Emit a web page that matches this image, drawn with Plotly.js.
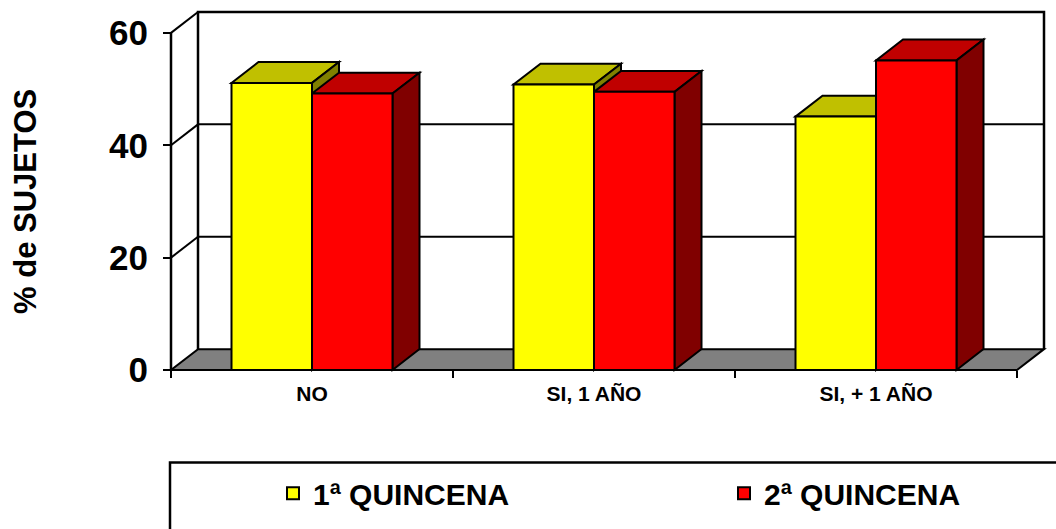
<!DOCTYPE html>
<html>
<head>
<meta charset="utf-8">
<script src="https://cdn.plot.ly/plotly-3.0.1.min.js"></script>
<style>html,body{margin:0;padding:0;background:#fff;}#chart{width:1056px;height:529px;}</style>
</head>
<body>
<div id="chart"></div>
<script>
// ---- data ----
const categories = ['NO', 'SI, 1 AÑO', 'SI, + 1 AÑO'];
const q1 = [51.1, 50.8, 45.1];
const q2 = [49.2, 49.5, 55.1];
const seriesNames = ['1ª QUINCENA', '2ª QUINCENA'];
const yTicks = [0, 20, 40, 60];
const yTitle = '% de SUJETOS';

// ---- geometry (pixels) ----
const KX = 282, KY = 5.65;          // px per category / per unit
const X0PX = 171, Y0PX = 372;       // front origin
const DXPX = 27, DYPX = 21;         // 3D depth offset
const PAD = 3;
const DX = DXPX / KX, DY = DYPX / KY;
const YMAX = 60;
const BW = 80.5 / KX;
const FW = 1056, FH = 529;

const xmin = -0.5 - PAD / KX, xmax = categories.length - 0.5 + DX + PAD / KX;
const ymin = -PAD / KY, ymax = YMAX + DY + PAD / KY;
const W = (xmax - xmin) * KX, H = (ymax - ymin) * KY;
const ml = X0PX - PAD, mb = FH - (Y0PX + PAD);
const mr = FW - ml - W, mt = FH - mb - H;
const px2paperX = p => (p - ml) / W;
const px2paperY = p => (FH - mb - p) / H;

const colors = {
  front: ['#FFFF00', '#FF0000'],
  top: ['#C0C000', '#C00000'],
  side: ['#808000', '#800000']
};

const xL = -0.5, xR = categories.length - 0.5;
const shapes = [];
const ln = (w) => ({color: '#000', width: w});
function poly(pts, fill, w) {
  const d = 'M' + pts.map(p => p[0] + ',' + p[1]).join('L') + 'Z';
  shapes.push({type: 'path', xref: 'x', yref: 'y', layer: 'below', path: d,
    fillcolor: fill, line: ln(w)});
}
function seg(x0, y0, x1, y1, w) {
  shapes.push({type: 'line', xref: 'x', yref: 'y', layer: 'below', x0, y0, x1, y1, line: ln(w)});
}
// floor
poly([[xL, 0], [xR, 0], [xR + DX, DY], [xL + DX, DY]], '#808080', 2);
// back wall frame
shapes.push({type: 'path', xref: 'x', yref: 'y', layer: 'below',
  path: `M${xL + DX},${DY}L${xL + DX},${YMAX + DY}L${xR + DX},${YMAX + DY}L${xR + DX},${DY}`,
  line: ln(2.5)});
// gridlines on back wall + diagonals on left wall
yTicks.forEach(v => {
  if (v > 0 && v < YMAX) seg(xL + DX, v + DY, xR + DX, v + DY, 2);
  if (v > 0) seg(xL, v, xL + DX, v + DY, 2);
});
// front vertical axis line
seg(xL, 0, xL, YMAX, 2.5);

// 3D faces (tops and sides) computed from the data
const series = [q1, q2];
const offsets = [-BW, 0];
categories.forEach((c, i) => {
  series.forEach((s, k) => {
    const xl = i + offsets[k], xr = xl + BW, v = s[i];
    poly([[xl, v], [xr, v], [xr + DX, v + DY], [xl + DX, v + DY]], colors.top[k], 2);
    poly([[xr, 0], [xr, v], [xr + DX, v + DY], [xr + DX, DY]], colors.side[k], 2);
  });
});

// legend frame
shapes.push({type: 'rect', xref: 'paper', yref: 'paper', layer: 'above',
  x0: px2paperX(170), x1: px2paperX(1080), y0: px2paperY(465), y1: px2paperY(560),
  line: ln(2.5), fillcolor: 'rgba(0,0,0,0)'});

const xIdx = categories.map((c, i) => i);
const legendIds = ['legend', 'legend2'];
const traces = series.map((s, k) => ({
  type: 'bar', x: xIdx, y: s, name: seriesNames[k], legend: legendIds[k],
  width: BW, offset: offsets[k],
  marker: {color: colors.front[k], line: {color: '#000', width: 2}},
  hoverinfo: 'y'
}));

const fontFam = '"Liberation Sans", Arial, sans-serif';
const legFont = {family: fontFam, size: 30, weight: 'bold', color: '#000'};
const legBase = {
  orientation: 'h', xanchor: 'left', yanchor: 'middle', y: px2paperY(496),
  font: legFont, bgcolor: 'rgba(0,0,0,0)', borderwidth: 0
};
const layout = {
  width: FW, height: FH,
  margin: {l: ml, r: mr, t: mt, b: mb, pad: 0},
  paper_bgcolor: '#fff', plot_bgcolor: 'rgba(0,0,0,0)',
  barmode: 'overlay',
  showlegend: true,
  font: {family: fontFam, color: '#000'},
  xaxis: {
    range: [xmin, xmax], anchor: 'free', position: px2paperY(Y0PX),
    showgrid: false, zeroline: false, showline: false,
    tickmode: 'array', tickvals: xIdx, ticktext: categories,
    ticks: '', ticklabelstandoff: 9,
    tickfont: {family: fontFam, size: 21, weight: 'bold', color: '#000'},
    minor: {tickmode: 'array', tickvals: [xL, 0.5, 1.5, xR], ticks: 'outside',
      ticklen: 7, tickwidth: 2, tickcolor: '#000', showgrid: false},
    fixedrange: true
  },
  yaxis: {
    range: [ymin, ymax], anchor: 'free', position: px2paperX(X0PX),
    showgrid: false, zeroline: false, showline: false,
    tickmode: 'array', tickvals: yTicks, ticks: 'outside', ticklen: 8, tickwidth: 2,
    tickcolor: '#000', ticklabelstandoff: 8,
    tickfont: {family: fontFam, size: 35, weight: 'bold', color: '#000'},
    fixedrange: true
  },
  annotations: [{
    text: yTitle, textangle: -90, showarrow: false,
    xref: 'paper', yref: 'paper', x: px2paperX(26), y: px2paperY(202),
    xanchor: 'center', yanchor: 'middle',
    font: {family: fontFam, size: 31, weight: 'bold', color: '#000'}
  }],
  legend: Object.assign({}, legBase, {x: px2paperX(273)}),
  legend2: Object.assign({}, legBase, {x: px2paperX(724)}),
  shapes: shapes
};

Plotly.newPlot('chart', traces, layout, {displayModeBar: false, staticPlot: true});
</script>
</body>
</html>
